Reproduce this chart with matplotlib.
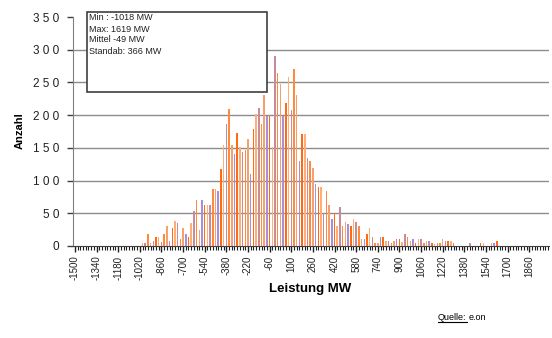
import numpy as np
import matplotlib
matplotlib.use('Agg')
import matplotlib.pyplot as plt
from matplotlib.patches import Rectangle
from matplotlib.lines import Line2D

plt.rcParams['font.family'] = ['Liberation Sans', 'DejaVu Sans']

# histogram classes (MW, 20 MW steps) and counts per class
bin_start = -1500
bin_step = 20
n_bins = 176
nonzero_bins = {
    -1000: 4, -980: 4, -960: 18, -940: 4, -920: 7, -900: 14, -880: 14, -860: 6,
    -840: 18, -820: 30, -800: 8, -780: 27, -760: 38, -740: 35, -720: 10, -700: 27,
    -680: 18, -660: 14, -640: 35, -620: 54, -600: 70, -580: 24, -560: 70, -540: 63,
    -520: 63, -500: 63, -480: 87, -460: 87, -440: 84, -420: 118, -400: 155, -380: 186,
    -360: 209, -340: 155, -320: 140, -300: 172, -280: 151, -260: 143, -240: 147, -220: 163,
    -200: 110, -180: 179, -160: 202, -140: 211, -120: 186, -100: 231, -80: 198, -60: 198,
    -40: 151, -20: 291, 0: 264, 20: 247, 40: 198, 60: 219, 80: 259, 100: 208,
    120: 271, 140: 231, 160: 130, 180: 171, 200: 171, 220: 134, 240: 130, 260: 119,
    280: 94, 300: 90, 320: 90, 340: 50, 360: 84, 380: 63, 400: 42, 420: 50,
    440: 31, 460: 59, 480: 31, 500: 37, 520: 34, 540: 31, 560: 42, 580: 37,
    600: 31, 620: 10, 640: 10, 660: 18, 680: 27, 700: 14, 720: 4, 740: 4,
    760: 14, 780: 14, 800: 8, 820: 7, 840: 4, 860: 8, 880: 10, 900: 10,
    920: 6, 940: 18, 960: 14, 980: 7, 1000: 10, 1020: 5, 1040: 10, 1060: 10,
    1080: 4, 1100: 7, 1120: 7, 1140: 4, 1160: 3, 1180: 4, 1200: 5, 1220: 10,
    1240: 7, 1260: 7, 1280: 7, 1300: 5, 1420: 5, 1500: 5, 1520: 5, 1580: 5,
    1600: 5, 1620: 7,
}
stats_lines = ['Min : -1018 MW', 'Max: 1619 MW', 'Mittel -49 MW', 'Standab: 366 MW']
y_ticks = [0, 50, 100, 150, 200, 250, 300, 350]

classes = [bin_start + i * bin_step for i in range(n_bins)]
counts = [nonzero_bins.get(c, 0) for c in classes]

W, H = 552, 338
fig = plt.figure(figsize=(W / 100, H / 100), dpi=100)
ax = fig.add_axes([73 / W, (H - 246) / H, (549 - 73) / W, (246 - 17) / H])

palette = ['#ff6a12', '#ffae78', '#c98a9a', '#ff8a3c', '#f6a070', '#a890d8']
colors = [palette[i % len(palette)] for i in range(n_bins)]
x = np.arange(n_bins)
ax.bar(x, counts, width=0.55, color=colors, linewidth=0, zorder=3)

ax.set_xlim(-0.7, 175.3)
ax.set_ylim(0, 350)

# horizontal grid (no line at the top value)
for yv in y_ticks[1:-1]:
    ax.axhline(yv, color='#8c8c8c', lw=1.0, zorder=1)

for s in ['top', 'right']:
    ax.spines[s].set_visible(False)
ax.spines['left'].set_color('#808080')
ax.spines['bottom'].set_color('#404040')

ax.set_yticks(y_ticks)
ax.set_yticklabels([' '.join(str(v)) for v in y_ticks], fontsize=8.5, color='#202020')
ax.tick_params(axis='y', length=4, width=1, color='#404040', pad=6)

major = [i for i in range(0, n_bins, 8) if classes[i] <= 1860]
ax.set_xticks(major)
ax.set_xticklabels([str(classes[i]) for i in major], rotation=90, fontsize=7, color='#202020')
ax.set_xticks(x, minor=True)
ax.tick_params(axis='x', which='major', length=4, width=1, color='#202020', pad=3)
ax.tick_params(axis='x', which='minor', length=3, width=0.8, color='#202020')

fig.text(310 / W, 1 - 289 / H, 'Leistung MW', ha='center', va='center',
         fontsize=9.5, fontweight='bold')
fig.text(20 / W, 1 - 131 / H, 'Anzahl', ha='center', va='center',
         rotation=90, fontsize=8, fontweight='bold')

# statistics box
box = Rectangle((87 / W, 1 - 92 / H), (267 - 87) / W, (92 - 12) / H,
                transform=fig.transFigure, facecolor='white', edgecolor='#404040',
                lw=1.2, zorder=5)
fig.add_artist(box)
for k, line in enumerate(stats_lines):
    fig.text(89 / W, 1 - (18 + k * 11) / H, line, ha='left', va='center',
             fontsize=6.5, color='#202020', zorder=6)

# source note
q = fig.text(438 / W, 1 - 317 / H, 'Quelle:', ha='left', va='center', fontsize=6.5)
fig.canvas.draw()
bb = q.get_window_extent()
fig.text(bb.x1 / W + 2 / W, 1 - 317 / H, 'e.on', ha='left', va='center', fontsize=6.5)
fig.add_artist(Line2D([bb.x0 / W, bb.x1 / W], [(bb.y0 - 0.5) / H, (bb.y0 - 0.5) / H],
                      transform=fig.transFigure, color='black', lw=0.8))

fig.savefig('out.png', dpi=100)
